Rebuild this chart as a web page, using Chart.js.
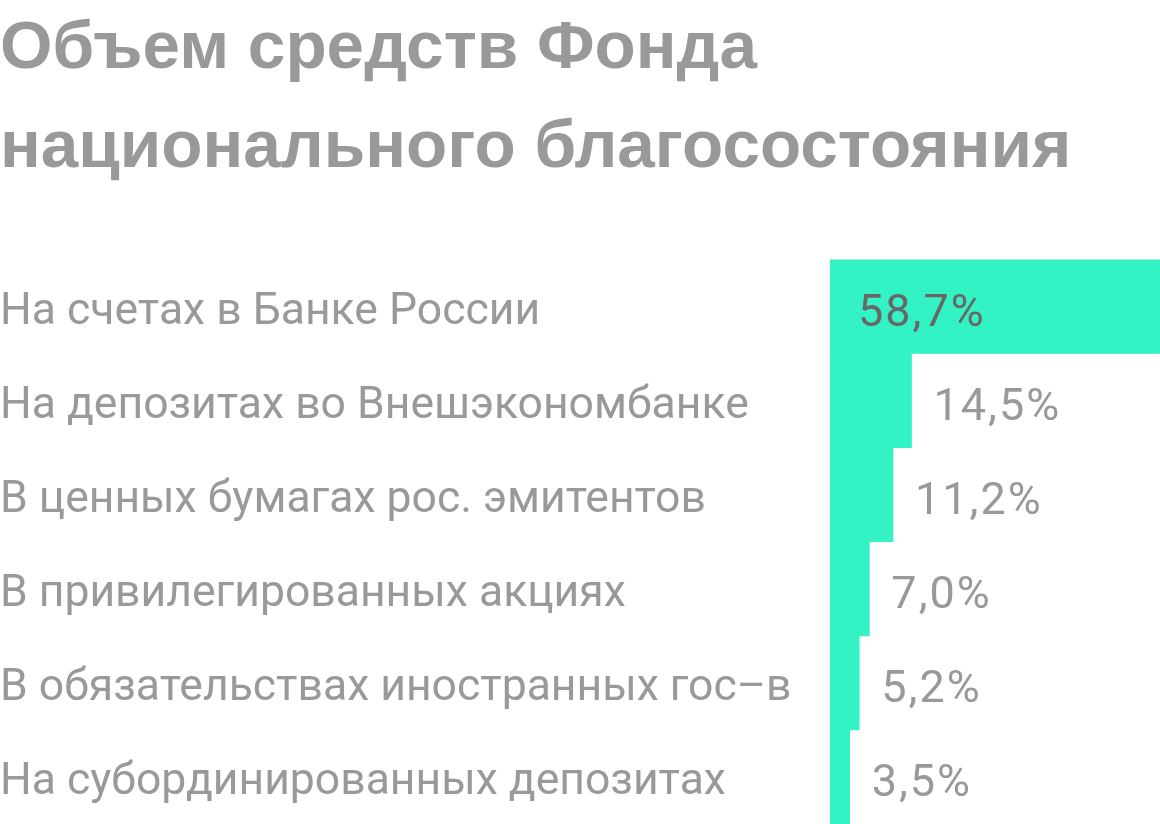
<!DOCTYPE html>
<html lang="ru">
<head>
<meta charset="utf-8">
<title>Объем средств Фонда национального благосостояния</title>
<script src="https://cdn.jsdelivr.net/npm/chart.js@4/dist/chart.umd.min.js"></script>
<style>
  html, body { margin: 0; padding: 0; background: #fff; }
  .wrap { width: 1160px; height: 824px; position: relative; }
</style>
</head>
<body>
<div class="wrap"><canvas id="fundChart"></canvas></div>
<script>
// chart data
const titleLines = ["Объем средств Фонда", "национального благосостояния"];
const categories = [
  "На счетах в Банке России",
  "На депозитах во Внешэкономбанке",
  "В ценных бумагах рос. эмитентов",
  "В привилегированных акциях",
  "В обязательствах иностранных гос–в",
  "На субординированных депозитах",
];
const shares = [58.7, 14.5, 11.2, 7.0, 5.2, 3.5];

const BAR_COLOR = "#33f3c5";
const TEXT_GREY = "#999999";
const TEXT_DARK = "#676767";

function fmtPct(v) {
  return v.toFixed(1).replace(".", ",") + "%";
}

// draws value labels next to (or inside) each bar
const valueLabels = {
  id: "valueLabels",
  afterDatasetsDraw(chart) {
    const ctx = chart.ctx;
    const meta = chart.getDatasetMeta(0);
    const area = chart.chartArea;
    ctx.save();
    ctx.font = "45px Roboto";
    ctx.letterSpacing = "2px";
    ctx.textBaseline = "middle";
    ctx.textAlign = "left";
    meta.data.forEach((bar, i) => {
      const txt = fmtPct(shares[i]);
      const w = ctx.measureText(txt).width;
      let x = bar.x + 22;
      if (x + w > area.right) {
        // doesn't fit after the bar, put it inside
        x = bar.base + 28;
        ctx.fillStyle = TEXT_DARK;
      } else {
        ctx.fillStyle = TEXT_GREY;
      }
      ctx.fillText(txt, x, bar.y + 8);
    });
    ctx.restore();
  },
};

function initChart() {
  const ctx = document.getElementById("fundChart");
  new Chart(ctx, {
    type: "bar",
    data: {
      labels: categories,
      datasets: [
        {
          data: shares,
          backgroundColor: BAR_COLOR,
          borderWidth: 0,
          categoryPercentage: 1.0,
          barPercentage: 1.0,
        },
      ],
    },
    options: {
      indexAxis: "y",
      responsive: true,
      maintainAspectRatio: false,
      animation: false,
      layout: { padding: 0 },
      scales: {
        x: {
          display: false,
          min: 0,
          max: Math.max(...shares),
        },
        y: {
          grid: { display: false },
          border: { display: false },
          ticks: {
            crossAlign: "far",
            padding: 0,
            labelOffset: 6,
            color: TEXT_GREY,
            font: { family: "Roboto", size: 44.5 },
          },
          afterFit(scale) {
            scale.width = 830;
            scale.paddingTop = 0;
            scale.paddingBottom = 0;
          },
        },
      },
      plugins: {
        legend: { display: false },
        tooltip: { enabled: false },
        title: {
          display: true,
          text: titleLines,
          align: "start",
          color: TEXT_GREY,
          font: { family: "'Liberation Sans', Arial, sans-serif", size: 67.5, weight: "bold", lineHeight: 1.47 },
          padding: { top: 0, bottom: 61 },
        },
      },
    },
    plugins: [valueLabels],
  });
}

document.addEventListener("DOMContentLoaded", initChart);
</script>
</body>
</html>
